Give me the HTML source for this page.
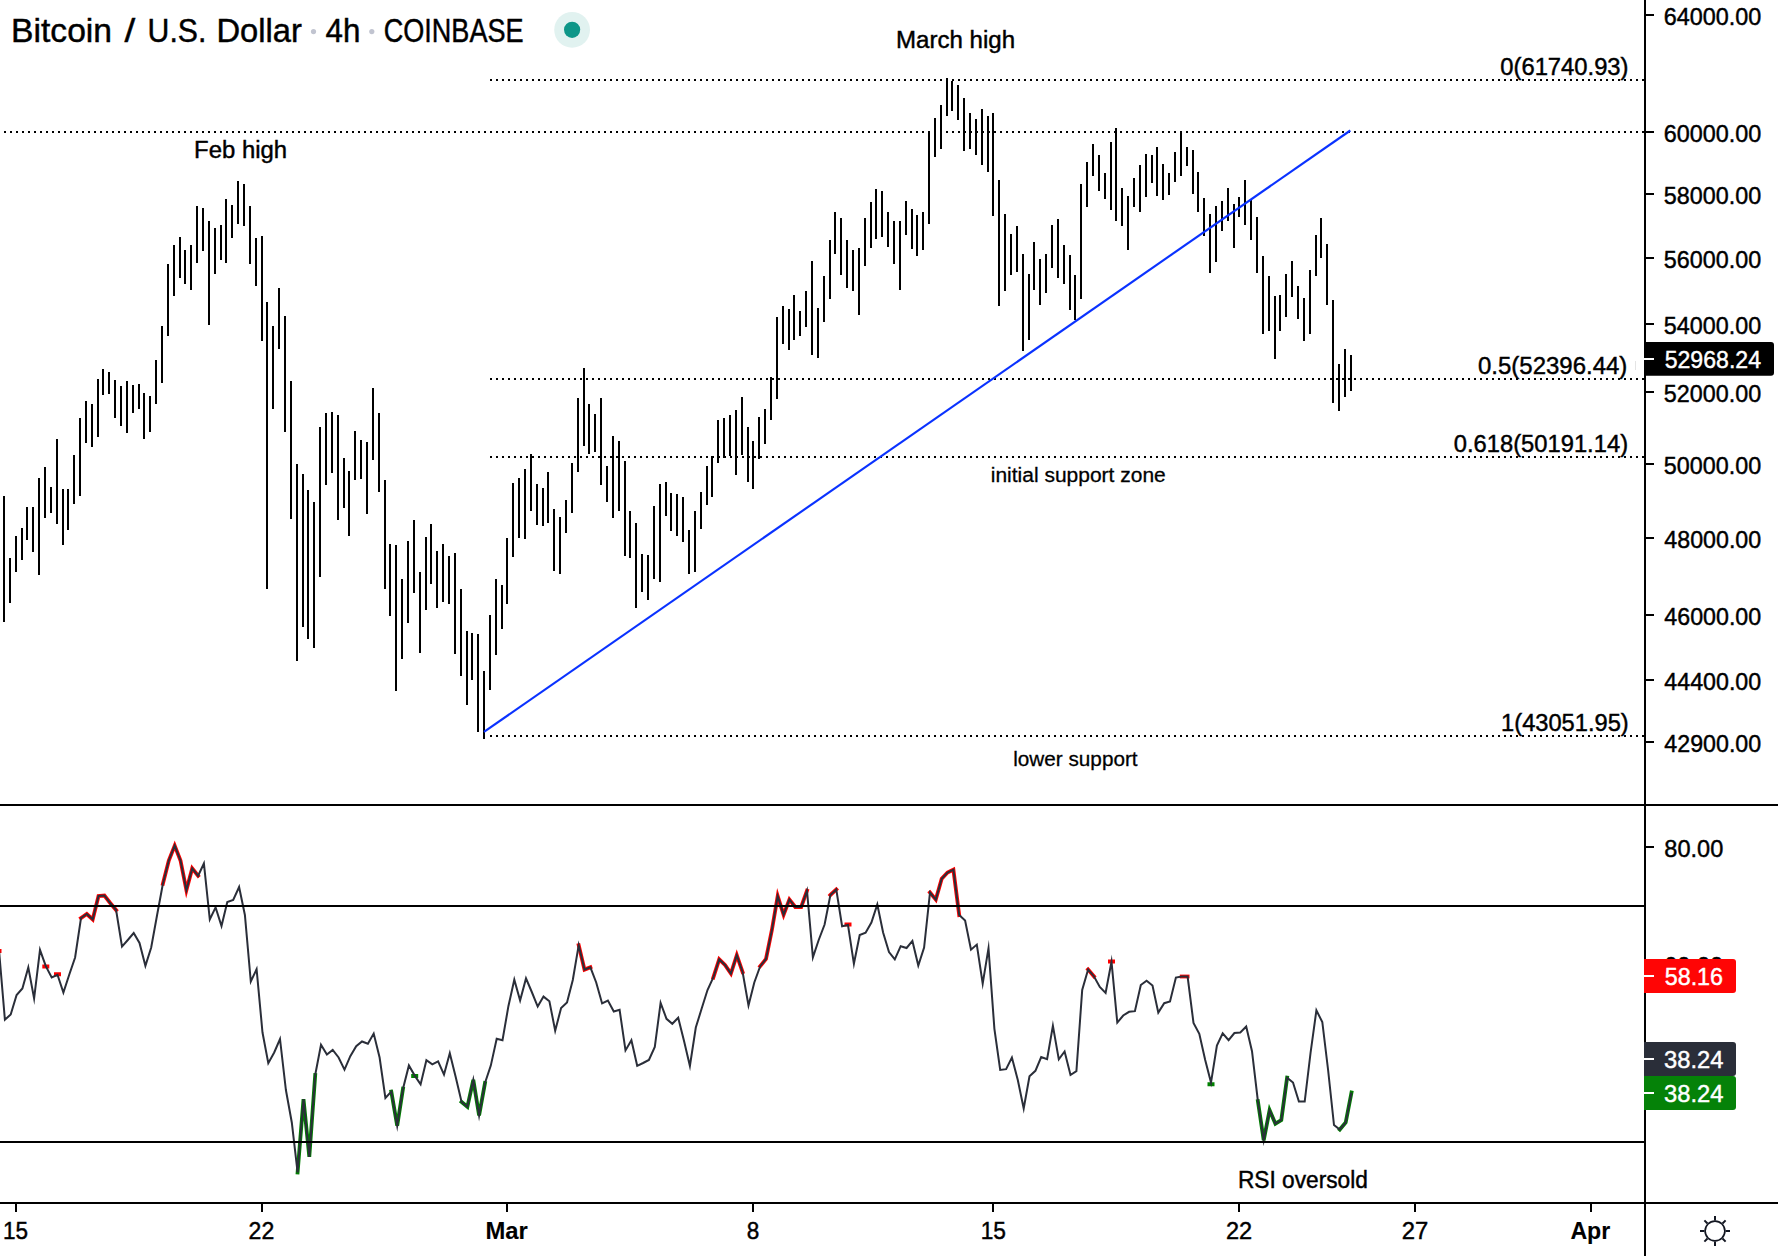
<!DOCTYPE html>
<html lang="en"><head><meta charset="utf-8"><title>Bitcoin / U.S. Dollar 4h COINBASE</title>
<style>html,body{margin:0;padding:0;background:#fff}body{width:1778px;height:1256px;overflow:hidden}svg{display:block}text{font-family:"Liberation Sans",sans-serif;fill:#000;stroke:#000;stroke-width:.45px}.b{font-weight:bold;stroke-width:.1px}</style></head><body>
<svg width="1778" height="1256" viewBox="0 0 1778 1256">
<rect width="1778" height="1256" fill="#fff"/>
<g stroke="#000" stroke-width="2" stroke-dasharray="2 4" shape-rendering="crispEdges">
<line x1="4" y1="132" x2="1644" y2="132"/>
<line x1="490" y1="80" x2="1644" y2="80"/>
<line x1="490" y1="379" x2="1644" y2="379"/>
<line x1="490" y1="457" x2="1644" y2="457"/>
<line x1="490" y1="736" x2="1644" y2="736"/>
</g>
<g fill="#000" shape-rendering="crispEdges">
<rect x="3" y="496" width="2" height="126"/>
<rect x="9" y="558" width="2" height="45"/>
<rect x="15" y="536" width="2" height="36"/>
<rect x="21" y="528" width="2" height="32"/>
<rect x="26" y="507" width="2" height="33"/>
<rect x="32" y="507" width="2" height="45"/>
<rect x="38" y="478" width="2" height="97"/>
<rect x="44" y="467" width="2" height="51"/>
<rect x="50" y="487" width="2" height="26"/>
<rect x="56" y="439" width="2" height="85"/>
<rect x="62" y="489" width="2" height="56"/>
<rect x="67" y="489" width="2" height="41"/>
<rect x="73" y="455" width="2" height="49"/>
<rect x="79" y="418" width="2" height="78"/>
<rect x="85" y="401" width="2" height="42"/>
<rect x="91" y="404" width="2" height="43"/>
<rect x="97" y="379" width="2" height="58"/>
<rect x="102" y="369" width="2" height="26"/>
<rect x="108" y="372" width="2" height="22"/>
<rect x="114" y="380" width="2" height="38"/>
<rect x="120" y="386" width="2" height="40"/>
<rect x="126" y="381" width="2" height="52"/>
<rect x="132" y="385" width="2" height="28"/>
<rect x="138" y="384" width="2" height="25"/>
<rect x="143" y="393" width="2" height="46"/>
<rect x="149" y="396" width="2" height="36"/>
<rect x="155" y="360" width="2" height="44"/>
<rect x="161" y="326" width="2" height="57"/>
<rect x="167" y="264" width="2" height="72"/>
<rect x="173" y="245" width="2" height="51"/>
<rect x="179" y="237" width="2" height="41"/>
<rect x="184" y="250" width="2" height="34"/>
<rect x="190" y="245" width="2" height="45"/>
<rect x="196" y="206" width="2" height="57"/>
<rect x="202" y="208" width="2" height="43"/>
<rect x="208" y="221" width="2" height="104"/>
<rect x="214" y="228" width="2" height="46"/>
<rect x="220" y="225" width="2" height="35"/>
<rect x="225" y="199" width="2" height="64"/>
<rect x="231" y="205" width="2" height="33"/>
<rect x="237" y="181" width="2" height="43"/>
<rect x="243" y="184" width="2" height="42"/>
<rect x="249" y="206" width="2" height="58"/>
<rect x="255" y="238" width="2" height="48"/>
<rect x="261" y="236" width="2" height="105"/>
<rect x="266" y="302" width="2" height="287"/>
<rect x="272" y="326" width="2" height="83"/>
<rect x="278" y="288" width="2" height="61"/>
<rect x="284" y="316" width="2" height="116"/>
<rect x="290" y="381" width="2" height="138"/>
<rect x="296" y="464" width="2" height="197"/>
<rect x="302" y="474" width="2" height="153"/>
<rect x="307" y="490" width="2" height="149"/>
<rect x="313" y="502" width="2" height="146"/>
<rect x="319" y="427" width="2" height="150"/>
<rect x="325" y="413" width="2" height="72"/>
<rect x="331" y="412" width="2" height="61"/>
<rect x="337" y="415" width="2" height="105"/>
<rect x="343" y="458" width="2" height="50"/>
<rect x="348" y="471" width="2" height="65"/>
<rect x="354" y="431" width="2" height="49"/>
<rect x="360" y="440" width="2" height="39"/>
<rect x="366" y="442" width="2" height="72"/>
<rect x="372" y="388" width="2" height="72"/>
<rect x="378" y="413" width="2" height="79"/>
<rect x="384" y="480" width="2" height="109"/>
<rect x="389" y="544" width="2" height="72"/>
<rect x="395" y="545" width="2" height="146"/>
<rect x="401" y="579" width="2" height="80"/>
<rect x="407" y="541" width="2" height="82"/>
<rect x="413" y="520" width="2" height="73"/>
<rect x="419" y="572" width="2" height="81"/>
<rect x="425" y="537" width="2" height="73"/>
<rect x="430" y="524" width="2" height="60"/>
<rect x="436" y="551" width="2" height="57"/>
<rect x="442" y="544" width="2" height="58"/>
<rect x="448" y="556" width="2" height="48"/>
<rect x="454" y="553" width="2" height="101"/>
<rect x="460" y="589" width="2" height="87"/>
<rect x="466" y="631" width="2" height="74"/>
<rect x="471" y="633" width="2" height="47"/>
<rect x="477" y="634" width="2" height="98"/>
<rect x="483" y="671" width="2" height="68"/>
<rect x="489" y="615" width="2" height="75"/>
<rect x="495" y="579" width="2" height="76"/>
<rect x="501" y="585" width="2" height="44"/>
<rect x="506" y="538" width="2" height="66"/>
<rect x="512" y="483" width="2" height="74"/>
<rect x="518" y="478" width="2" height="60"/>
<rect x="524" y="469" width="2" height="70"/>
<rect x="530" y="454" width="2" height="57"/>
<rect x="536" y="484" width="2" height="41"/>
<rect x="542" y="488" width="2" height="38"/>
<rect x="547" y="472" width="2" height="51"/>
<rect x="553" y="509" width="2" height="62"/>
<rect x="559" y="517" width="2" height="57"/>
<rect x="565" y="500" width="2" height="33"/>
<rect x="571" y="463" width="2" height="50"/>
<rect x="577" y="398" width="2" height="74"/>
<rect x="583" y="368" width="2" height="78"/>
<rect x="588" y="404" width="2" height="50"/>
<rect x="594" y="414" width="2" height="38"/>
<rect x="600" y="398" width="2" height="87"/>
<rect x="606" y="466" width="2" height="36"/>
<rect x="612" y="436" width="2" height="82"/>
<rect x="618" y="441" width="2" height="70"/>
<rect x="624" y="461" width="2" height="95"/>
<rect x="629" y="511" width="2" height="47"/>
<rect x="635" y="523" width="2" height="85"/>
<rect x="641" y="554" width="2" height="38"/>
<rect x="647" y="555" width="2" height="45"/>
<rect x="653" y="506" width="2" height="73"/>
<rect x="659" y="484" width="2" height="98"/>
<rect x="665" y="482" width="2" height="34"/>
<rect x="670" y="493" width="2" height="38"/>
<rect x="676" y="494" width="2" height="42"/>
<rect x="682" y="497" width="2" height="45"/>
<rect x="688" y="530" width="2" height="44"/>
<rect x="694" y="511" width="2" height="61"/>
<rect x="700" y="492" width="2" height="37"/>
<rect x="706" y="466" width="2" height="39"/>
<rect x="711" y="456" width="2" height="41"/>
<rect x="717" y="420" width="2" height="43"/>
<rect x="723" y="418" width="2" height="40"/>
<rect x="729" y="415" width="2" height="41"/>
<rect x="735" y="410" width="2" height="65"/>
<rect x="741" y="397" width="2" height="58"/>
<rect x="747" y="427" width="2" height="55"/>
<rect x="752" y="441" width="2" height="48"/>
<rect x="758" y="417" width="2" height="42"/>
<rect x="764" y="409" width="2" height="35"/>
<rect x="770" y="377" width="2" height="43"/>
<rect x="776" y="317" width="2" height="82"/>
<rect x="782" y="306" width="2" height="38"/>
<rect x="788" y="309" width="2" height="41"/>
<rect x="793" y="295" width="2" height="45"/>
<rect x="799" y="311" width="2" height="25"/>
<rect x="805" y="291" width="2" height="36"/>
<rect x="811" y="261" width="2" height="94"/>
<rect x="817" y="308" width="2" height="50"/>
<rect x="823" y="276" width="2" height="46"/>
<rect x="829" y="240" width="2" height="59"/>
<rect x="834" y="212" width="2" height="42"/>
<rect x="840" y="218" width="2" height="57"/>
<rect x="846" y="240" width="2" height="48"/>
<rect x="852" y="250" width="2" height="41"/>
<rect x="858" y="248" width="2" height="67"/>
<rect x="864" y="218" width="2" height="48"/>
<rect x="870" y="202" width="2" height="46"/>
<rect x="875" y="189" width="2" height="50"/>
<rect x="881" y="191" width="2" height="46"/>
<rect x="887" y="212" width="2" height="35"/>
<rect x="893" y="221" width="2" height="43"/>
<rect x="899" y="221" width="2" height="69"/>
<rect x="905" y="201" width="2" height="34"/>
<rect x="911" y="209" width="2" height="40"/>
<rect x="916" y="215" width="2" height="41"/>
<rect x="922" y="212" width="2" height="38"/>
<rect x="928" y="131" width="2" height="93"/>
<rect x="934" y="118" width="2" height="39"/>
<rect x="940" y="105" width="2" height="44"/>
<rect x="946" y="78" width="2" height="38"/>
<rect x="951" y="81" width="2" height="30"/>
<rect x="957" y="85" width="2" height="35"/>
<rect x="963" y="98" width="2" height="53"/>
<rect x="969" y="113" width="2" height="36"/>
<rect x="975" y="119" width="2" height="36"/>
<rect x="981" y="109" width="2" height="56"/>
<rect x="987" y="116" width="2" height="56"/>
<rect x="992" y="113" width="2" height="103"/>
<rect x="998" y="180" width="2" height="126"/>
<rect x="1004" y="214" width="2" height="77"/>
<rect x="1010" y="234" width="2" height="41"/>
<rect x="1016" y="226" width="2" height="46"/>
<rect x="1022" y="254" width="2" height="97"/>
<rect x="1028" y="274" width="2" height="66"/>
<rect x="1033" y="242" width="2" height="48"/>
<rect x="1039" y="259" width="2" height="46"/>
<rect x="1045" y="254" width="2" height="39"/>
<rect x="1051" y="225" width="2" height="43"/>
<rect x="1057" y="219" width="2" height="59"/>
<rect x="1063" y="245" width="2" height="39"/>
<rect x="1069" y="255" width="2" height="55"/>
<rect x="1074" y="275" width="2" height="45"/>
<rect x="1080" y="184" width="2" height="115"/>
<rect x="1086" y="162" width="2" height="45"/>
<rect x="1092" y="144" width="2" height="32"/>
<rect x="1098" y="155" width="2" height="36"/>
<rect x="1104" y="173" width="2" height="26"/>
<rect x="1110" y="142" width="2" height="68"/>
<rect x="1115" y="128" width="2" height="93"/>
<rect x="1121" y="188" width="2" height="38"/>
<rect x="1127" y="196" width="2" height="54"/>
<rect x="1133" y="178" width="2" height="29"/>
<rect x="1139" y="165" width="2" height="47"/>
<rect x="1145" y="154" width="2" height="43"/>
<rect x="1151" y="155" width="2" height="28"/>
<rect x="1156" y="147" width="2" height="49"/>
<rect x="1162" y="164" width="2" height="36"/>
<rect x="1168" y="173" width="2" height="22"/>
<rect x="1174" y="152" width="2" height="30"/>
<rect x="1180" y="131" width="2" height="45"/>
<rect x="1186" y="147" width="2" height="19"/>
<rect x="1192" y="150" width="2" height="44"/>
<rect x="1197" y="172" width="2" height="40"/>
<rect x="1203" y="198" width="2" height="38"/>
<rect x="1209" y="214" width="2" height="59"/>
<rect x="1215" y="206" width="2" height="56"/>
<rect x="1221" y="201" width="2" height="30"/>
<rect x="1227" y="188" width="2" height="33"/>
<rect x="1233" y="204" width="2" height="44"/>
<rect x="1238" y="197" width="2" height="20"/>
<rect x="1244" y="180" width="2" height="45"/>
<rect x="1250" y="200" width="2" height="40"/>
<rect x="1256" y="217" width="2" height="56"/>
<rect x="1262" y="256" width="2" height="78"/>
<rect x="1268" y="276" width="2" height="55"/>
<rect x="1274" y="296" width="2" height="63"/>
<rect x="1279" y="295" width="2" height="36"/>
<rect x="1285" y="274" width="2" height="43"/>
<rect x="1291" y="261" width="2" height="36"/>
<rect x="1297" y="286" width="2" height="33"/>
<rect x="1303" y="298" width="2" height="43"/>
<rect x="1309" y="270" width="2" height="64"/>
<rect x="1315" y="235" width="2" height="41"/>
<rect x="1320" y="218" width="2" height="40"/>
<rect x="1326" y="244" width="2" height="61"/>
<rect x="1332" y="300" width="2" height="103"/>
<rect x="1338" y="364" width="2" height="47"/>
<rect x="1344" y="349" width="2" height="48"/>
<rect x="1350" y="355" width="2" height="36"/>
</g>
<line x1="484" y1="731.9" x2="1350.3" y2="130.5" stroke="#0a32ff" stroke-width="2.15"/>
<g fill="none" stroke-linejoin="miter" stroke-miterlimit="5" stroke-linecap="square">
<polyline points="81.0,918.0 86.8,914.0 92.7,919.4 98.5,896.0 104.4,895.5 110.2,903.0 116.1,910.0" stroke="#ff0000" stroke-width="3.8"/>
<polyline points="162.9,883.8 168.8,860.5 174.7,845.6 180.5,860.5 186.4,890.2 192.2,868.4 198.1,875.8" stroke="#ff0000" stroke-width="3.8"/>
<polyline points="578.7,945.2 584.5,969.6 590.4,967.3" stroke="#ff0000" stroke-width="3.8"/>
<polyline points="713.3,977.5 719.2,959.3 725.0,965.0 730.9,973.6 736.8,955.2 742.6,972.0" stroke="#ff0000" stroke-width="3.8"/>
<polyline points="760.2,966.2 766.0,959.0 771.9,930.0 777.7,896.1 783.6,914.7 789.4,899.5 795.3,907.0 801.2,907.0 807.0,890.6" stroke="#ff0000" stroke-width="3.8"/>
<polyline points="830.4,895.0 836.3,889.5" stroke="#ff0000" stroke-width="3.8"/>
<polyline points="930.0,892.5 935.8,899.6 941.7,878.8 947.5,872.5 953.4,869.7 959.2,915.0" stroke="#ff0000" stroke-width="3.8"/>
<polyline points="1088.1,969.5 1093.9,976.2" stroke="#ff0000" stroke-width="3.8"/>
<polyline points="1181.7,976.5 1187.6,976.5" stroke="#ff0000" stroke-width="3.8"/>
<polyline points="297.6,1172.4 303.5,1099.1 309.3,1156.9 315.2,1075.0" stroke="#008000" stroke-width="3.8"/>
<polyline points="391.3,1091.6 397.2,1125.8 403.0,1088.7" stroke="#008000" stroke-width="3.8"/>
<polyline points="461.6,1102.0 467.4,1106.8 473.3,1079.9 479.1,1115.5 485.0,1083.0" stroke="#008000" stroke-width="3.8"/>
<polyline points="1257.9,1101.2 1263.7,1140.3 1269.6,1110.1 1275.4,1123.7 1281.3,1120.0 1287.1,1077.7" stroke="#008000" stroke-width="3.8"/>
<polyline points="1339.8,1129.5 1345.7,1122.5 1351.5,1092.5" stroke="#008000" stroke-width="3.8"/>
</g>
<g>
<rect x="42.3" y="964.5" width="7" height="4" fill="#ff0000"/>
<rect x="54.0" y="972.25" width="7" height="4" fill="#ff0000"/>
<rect x="844.5" y="922.5" width="7" height="4" fill="#ff0000"/>
<rect x="1108.0" y="959.5" width="7" height="4" fill="#ff0000"/>
<rect x="411.2" y="1074" width="7" height="4" fill="#008000"/>
<rect x="1207.5" y="1082.25" width="7" height="4" fill="#008000"/>
<rect x="0" y="949" width="1.5" height="4" fill="#ff0000"/>
</g>
<polyline points="-1.0,950.0 4.9,1019.7 10.7,1014.5 16.6,995.0 22.4,988.5 28.3,967.4 34.1,998.5 40.0,949.9 45.8,966.2 51.7,977.5 57.5,974.8 63.4,992.5 69.3,974.5 75.1,957.5 81.0,918.0 86.8,914.0 92.7,919.4 98.5,896.0 104.4,895.5 110.2,903.0 116.1,910.0 122.0,946.6 127.8,940.0 133.7,933.0 139.5,943.0 145.4,965.8 151.2,947.5 157.1,915.0 162.9,883.8 168.8,860.5 174.7,845.6 180.5,860.5 186.4,890.2 192.2,868.4 198.1,875.8 203.9,863.5 209.8,919.5 215.6,907.4 221.5,926.1 227.3,902.0 233.2,900.0 239.1,887.0 244.9,915.0 250.8,981.5 256.6,969.2 262.5,1032.5 268.3,1063.2 274.2,1052.5 280.0,1039.0 285.9,1090.0 291.8,1122.5 297.6,1172.4 303.5,1099.1 309.3,1156.9 315.2,1075.0 321.0,1044.7 326.9,1054.6 332.7,1050.0 338.6,1057.5 344.5,1069.6 350.3,1056.2 356.2,1046.2 362.0,1041.5 367.9,1043.8 373.7,1033.6 379.6,1057.5 385.4,1098.0 391.3,1091.6 397.2,1125.8 403.0,1088.7 408.9,1065.5 414.7,1075.6 420.6,1084.4 426.4,1060.2 432.3,1064.4 438.1,1061.3 444.0,1074.6 449.8,1053.3 455.7,1076.9 461.6,1102.0 467.4,1106.8 473.3,1079.9 479.1,1115.5 485.0,1083.0 490.8,1065.6 496.7,1038.8 502.5,1040.2 508.4,1006.2 514.3,979.7 520.1,1000.4 526.0,978.4 531.8,992.0 537.7,1006.6 543.5,996.6 549.4,1001.2 555.2,1030.7 561.1,1008.0 567.0,1002.5 572.8,980.0 578.7,945.2 584.5,969.6 590.4,967.3 596.2,982.5 602.1,1003.4 607.9,1000.5 613.8,1011.5 619.6,1009.8 625.5,1050.4 631.4,1040.3 637.2,1065.8 643.1,1063.0 648.9,1060.0 654.8,1047.0 660.6,1002.9 666.5,1018.8 672.3,1023.8 678.2,1017.7 684.1,1041.2 689.9,1065.9 695.8,1027.5 701.6,1008.8 707.5,990.0 713.3,977.5 719.2,959.3 725.0,965.0 730.9,973.6 736.8,955.2 742.6,972.0 748.5,1005.5 754.3,982.5 760.2,966.2 766.0,959.0 771.9,930.0 777.7,896.1 783.6,914.7 789.4,899.5 795.3,907.0 801.2,907.0 807.0,890.6 812.9,957.3 818.7,940.0 824.6,924.5 830.4,895.0 836.3,889.5 842.1,926.2 848.0,925.0 853.9,963.8 859.7,935.0 865.6,932.8 871.4,922.5 877.3,904.4 883.1,932.5 889.0,952.0 894.8,959.4 900.7,946.2 906.6,948.0 912.4,940.9 918.3,965.6 924.1,947.5 930.0,892.5 935.8,899.6 941.7,878.8 947.5,872.5 953.4,869.7 959.2,915.0 965.1,920.5 971.0,949.7 976.8,944.6 982.7,983.6 988.5,948.2 994.4,1028.8 1000.2,1070.0 1006.1,1069.2 1011.9,1057.5 1017.8,1080.0 1023.7,1108.4 1029.5,1076.2 1035.4,1070.8 1041.2,1057.0 1047.1,1059.1 1052.9,1025.8 1058.8,1059.3 1064.6,1051.5 1070.5,1075.0 1076.4,1071.2 1082.2,990.0 1088.1,969.5 1093.9,976.2 1099.8,987.0 1105.6,992.9 1111.5,961.7 1117.3,1022.6 1123.2,1015.5 1129.1,1011.8 1134.9,1011.2 1140.8,985.0 1146.6,980.8 1152.5,985.5 1158.3,1012.6 1164.2,1003.2 1170.0,1001.5 1175.9,977.5 1181.7,976.5 1187.6,976.5 1193.5,1023.0 1199.3,1033.8 1205.2,1060.0 1211.0,1082.6 1216.9,1045.6 1222.7,1033.3 1228.6,1040.1 1234.4,1033.0 1240.3,1032.5 1246.2,1026.6 1252.0,1051.2 1257.9,1101.2 1263.7,1140.3 1269.6,1110.1 1275.4,1123.7 1281.3,1120.0 1287.1,1077.7 1293.0,1082.5 1298.9,1101.5 1304.7,1101.5 1310.6,1052.5 1316.4,1010.4 1322.3,1022.0 1328.1,1070.0 1334.0,1125.0 1339.8,1129.5 1345.7,1122.5 1351.5,1092.5" fill="none" stroke="#2a2e39" stroke-width="2" stroke-linejoin="miter" stroke-miterlimit="10"/>
<g fill="#000" shape-rendering="crispEdges">
<rect x="0" y="905" width="1645" height="2"/>
<rect x="0" y="1141" width="1645" height="2"/>
<rect x="0" y="804" width="1778" height="2"/>
<rect x="0" y="1202" width="1778" height="2"/>
<rect x="1644" y="0" width="2" height="1256"/>
<rect x="1646" y="14" width="8" height="2"/>
<rect x="1646" y="131" width="8" height="2"/>
<rect x="1646" y="193" width="8" height="2"/>
<rect x="1646" y="257" width="8" height="2"/>
<rect x="1646" y="323" width="8" height="2"/>
<rect x="1646" y="391" width="8" height="2"/>
<rect x="1646" y="463" width="8" height="2"/>
<rect x="1646" y="537" width="8" height="2"/>
<rect x="1646" y="614" width="8" height="2"/>
<rect x="1646" y="679" width="8" height="2"/>
<rect x="1646" y="741" width="8" height="2"/>
<rect x="1646" y="846" width="8" height="2"/>
<rect x="15" y="1204" width="2" height="8"/>
<rect x="261" y="1204" width="2" height="8"/>
<rect x="506" y="1204" width="2" height="8"/>
<rect x="752" y="1204" width="2" height="8"/>
<rect x="992" y="1204" width="2" height="8"/>
<rect x="1238" y="1204" width="2" height="8"/>
<rect x="1414" y="1204" width="2" height="8"/>
<rect x="1590" y="1204" width="2" height="8"/>
</g>
<text transform="translate(11.06,41.9) scale(1.0137,1)" font-size="33.2">Bitcoin</text>
<text transform="translate(124.40,41.9) scale(1.1618,1)" font-size="33.2">/</text>
<text transform="translate(147.58,41.9) scale(0.9104,1)" font-size="33.2">U.S.</text>
<text transform="translate(216.38,41.9) scale(0.9861,1)" font-size="33.2">Dollar</text>
<text transform="translate(325.62,41.9) scale(0.9431,1)" font-size="33.2">4h</text>
<text transform="translate(383.65,41.9) scale(0.8157,1)" font-size="33.2">COINBASE</text>
<text transform="translate(896.08,47.75) scale(0.9821,1)" font-size="24.5">March high</text>
<text transform="translate(194.09,157.75) scale(0.9752,1)" font-size="24.5">Feb high</text>
<text transform="translate(1237.93,1188) scale(0.9271,1)" font-size="24.5">RSI oversold</text>
<text transform="translate(990.78,481.6) scale(1.0290,1)" font-size="20.4" style="stroke-width:.28px">initial support zone</text>
<text transform="translate(1013.25,765.6) scale(1.0159,1)" font-size="20.4" style="stroke-width:.28px">lower support</text>
<text transform="translate(1500.25,74.7) scale(0.9675,1)" font-size="24.6">0(61740.93)</text>
<text transform="translate(1478.04,373.7) scale(0.9748,1)" font-size="24.6">0.5(52396.44)</text>
<text transform="translate(1453.75,451.5) scale(0.9657,1)" font-size="24.6">0.618(50191.14)</text>
<text transform="translate(1501.11,730.6) scale(0.9624,1)" font-size="24.6">1(43051.95)</text>
<text transform="translate(2.90,1239) scale(0.9270,1)" font-size="24.3">15</text>
<text transform="translate(248.55,1239) scale(0.9494,1)" font-size="24.3">22</text>
<text transform="translate(485.43,1239) scale(0.9813,1)" font-size="24.3" class="b">Mar</text>
<text transform="translate(746.80,1239) scale(0.9281,1)" font-size="24.3">8</text>
<text transform="translate(980.68,1239) scale(0.9353,1)" font-size="24.3">15</text>
<text transform="translate(1226.02,1239) scale(0.9697,1)" font-size="24.3">22</text>
<text transform="translate(1401.81,1239) scale(0.9820,1)" font-size="24.3">27</text>
<text transform="translate(1570.41,1239) scale(0.9529,1)" font-size="24.3" class="b">Apr</text>
<text transform="translate(1663.63,24.8) scale(0.9515,1)" font-size="24.6">64000.00</text>
<text transform="translate(1663.63,141.8) scale(0.9515,1)" font-size="24.6">60000.00</text>
<text transform="translate(1663.87,203.8) scale(0.9492,1)" font-size="24.6">58000.00</text>
<text transform="translate(1663.87,267.8) scale(0.9492,1)" font-size="24.6">56000.00</text>
<text transform="translate(1663.87,333.8) scale(0.9492,1)" font-size="24.6">54000.00</text>
<text transform="translate(1663.87,401.8) scale(0.9492,1)" font-size="24.6">52000.00</text>
<text transform="translate(1663.87,473.8) scale(0.9492,1)" font-size="24.6">50000.00</text>
<text transform="translate(1664.34,547.8) scale(0.9446,1)" font-size="24.6">48000.00</text>
<text transform="translate(1664.34,624.8) scale(0.9446,1)" font-size="24.6">46000.00</text>
<text transform="translate(1664.34,689.8) scale(0.9446,1)" font-size="24.6">44400.00</text>
<text transform="translate(1664.34,751.8) scale(0.9446,1)" font-size="24.6">42900.00</text>
<text transform="translate(1664.36,856.8) scale(0.9575,1)" font-size="24.6">80.00</text>
<text transform="translate(1664.12,973.8) scale(0.9614,1)" font-size="24.6">60.00</text>
<path d="M1644,342h127a3,3 0 0 1 3,3v27.700000000000003a3,3 0 0 1 -3,3h-127z" fill="#000"/>
<rect x="1644" y="358" width="10" height="2" fill="#fff" shape-rendering="crispEdges"/>
<path d="M1644,959h89a3,3 0 0 1 3,3v28a3,3 0 0 1 -3,3h-89z" fill="#ff0505"/>
<rect x="1644" y="975" width="10" height="2" fill="#fff" shape-rendering="crispEdges"/>
<path d="M1644,1042h89a3,3 0 0 1 3,3v28a3,3 0 0 1 -3,3h-89z" fill="#2a2e39"/>
<rect x="1644" y="1058" width="10" height="2" fill="#fff" shape-rendering="crispEdges"/>
<path d="M1644,1076h89a3,3 0 0 1 3,3v28a3,3 0 0 1 -3,3h-89z" fill="#058208"/>
<rect x="1644" y="1092" width="10" height="2" fill="#fff" shape-rendering="crispEdges"/>
<text transform="translate(1664.68,367.8) scale(0.9389,1)" font-size="24.6" style="fill:#fff;stroke:#fff">52968.24</text>
<text transform="translate(1664.67,985.4) scale(0.9491,1)" font-size="24.6" style="fill:#fff;stroke:#fff">58.16</text>
<text transform="translate(1664.05,1068.3) scale(0.9652,1)" font-size="24.6" style="fill:#fff;stroke:#fff">38.24</text>
<text transform="translate(1664.05,1102.2) scale(0.9652,1)" font-size="24.6" style="fill:#fff;stroke:#fff">38.24</text>
<rect x="1635" y="361" width="1" height="9" fill="#e4e4e4"/>
<circle cx="313.5" cy="31.6" r="2.6" fill="#c1c4d0"/><circle cx="371.8" cy="31.6" r="2.6" fill="#c1c4d0"/>
<circle cx="572.1" cy="29.8" r="17.9" fill="#e1f2f0"/><circle cx="572.1" cy="29.8" r="8.1" fill="#0e9688"/>
<g stroke="#131722" stroke-width="2" fill="none" stroke-linecap="butt"><circle cx="1715" cy="1231" r="9.9" stroke-width="1.7"/><line x1="1725.60" y1="1231.00" x2="1730.00" y2="1231.00"/><line x1="1722.50" y1="1238.50" x2="1725.61" y2="1241.61"/><line x1="1715.00" y1="1241.60" x2="1715.00" y2="1246.00"/><line x1="1707.50" y1="1238.50" x2="1704.39" y2="1241.61"/><line x1="1704.40" y1="1231.00" x2="1700.00" y2="1231.00"/><line x1="1707.50" y1="1223.50" x2="1704.39" y2="1220.39"/><line x1="1715.00" y1="1220.40" x2="1715.00" y2="1216.00"/><line x1="1722.50" y1="1223.50" x2="1725.61" y2="1220.39"/></g>
</svg></body></html>
